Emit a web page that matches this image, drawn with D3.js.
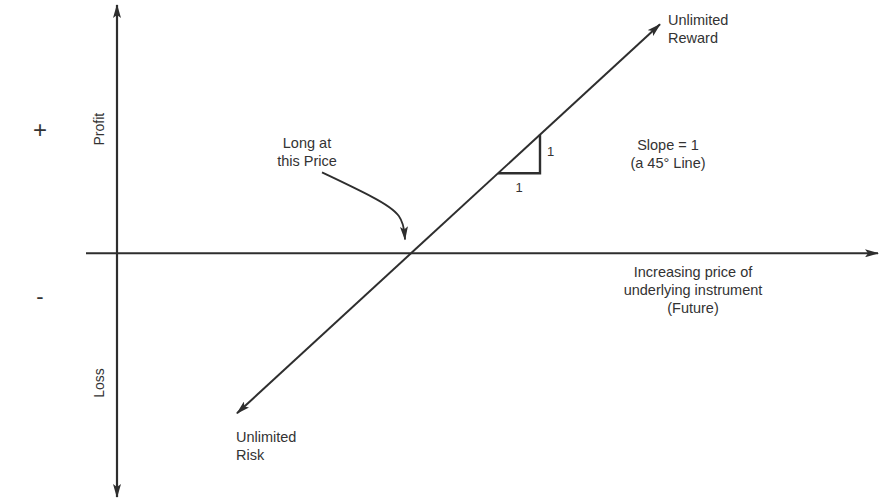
<!DOCTYPE html>
<html>
<head>
<meta charset="utf-8">
<script src="https://cdn.jsdelivr.net/npm/d3@7"></script>
<style>
  body { margin: 0; background: #fff; }
  text { font-family: "Liberation Sans", Arial, sans-serif; fill: #333; }
</style>
</head>
<body>
<script>
// payoff of a long future: profit = price - entry (entry at 0)
const priceExtent = [-3.25, 4.67];
const profitExtent = [-2.65, 2.70];
const payoffPrices = [-1.74, 2.49];
const slopeRun = [0.87, 1.29];

// labels: [price, profit, lines]
const labels = [
  { x: 2.57, y: 2.48, anchor: "start", lines: ["Unlimited", "Reward"] },
  { x: -1.75, y: -2.05, anchor: "start", lines: ["Unlimited", "Risk"] },
  { x: -1.04, y: 1.14, anchor: "middle", lines: ["Long at", "this Price"] },
  { x: 2.57, y: 1.12, anchor: "middle", lines: ["Slope = 1", "(a 45\u00b0 Line)"] },
  { x: 2.82, y: -0.26, anchor: "middle", lines: ["Increasing price of", "underlying instrument", "(Future)"] }
];
const curvePts = [[-0.89, 0.88], [-0.35, 0.6], [-0.08, 0.42], [-0.06, 0.15]];

const width = 880, height = 503;

const svg = d3.select("body").append("svg")
    .attr("width", width)
    .attr("height", height);

const x = d3.scaleLinear().domain(priceExtent).range([86, 878]);
const y = d3.scaleLinear().domain(profitExtent).range([497, 5]);
const axisX = -2.94;

const ink = "#2e2e2e";

// arrowhead marker
svg.append("defs").append("marker")
    .attr("id", "head")
    .attr("viewBox", "0 0 14 8")
    .attr("refX", 13)
    .attr("refY", 4)
    .attr("markerWidth", 14)
    .attr("markerHeight", 8)
    .attr("markerUnits", "userSpaceOnUse")
    .attr("orient", "auto")
  .append("path")
    .attr("d", "M0,0 L14,4 L0,8 L3,4 Z")
    .attr("fill", ink);

// axes
svg.append("line")
    .attr("x1", x(axisX)).attr("x2", x(axisX))
    .attr("y1", y(0)).attr("y2", y(profitExtent[1]))
    .attr("stroke", ink).attr("stroke-width", 2.2)
    .attr("marker-end", "url(#head)");
svg.append("line")
    .attr("x1", x(axisX)).attr("x2", x(axisX))
    .attr("y1", y(0)).attr("y2", y(profitExtent[0]))
    .attr("stroke", ink).attr("stroke-width", 2.2)
    .attr("marker-end", "url(#head)");
svg.append("line")
    .attr("x1", x(priceExtent[0])).attr("x2", x(priceExtent[1]))
    .attr("y1", y(0)).attr("y2", y(0))
    .attr("stroke", ink).attr("stroke-width", 2)
    .attr("marker-end", "url(#head)");

// payoff line, arrows both ends
svg.append("line")
    .attr("x1", x(0)).attr("y1", y(0))
    .attr("x2", x(payoffPrices[1])).attr("y2", y(payoffPrices[1]))
    .attr("stroke", ink).attr("stroke-width", 2)
    .attr("marker-end", "url(#head)");
svg.append("line")
    .attr("x1", x(0)).attr("y1", y(0))
    .attr("x2", x(payoffPrices[0])).attr("y2", y(payoffPrices[0]))
    .attr("stroke", ink).attr("stroke-width", 2)
    .attr("marker-end", "url(#head)");

// slope triangle
svg.append("path")
    .attr("d", d3.line()([
        [x(slopeRun[0]), y(slopeRun[0])],
        [x(slopeRun[1]), y(slopeRun[0])],
        [x(slopeRun[1]), y(slopeRun[1])]
    ]))
    .attr("fill", "none")
    .attr("stroke", ink).attr("stroke-width", 2.4);
svg.append("text")
    .attr("x", x(slopeRun[1]) + 7).attr("y", y((slopeRun[0] + slopeRun[1]) / 2) + 2)
    .attr("font-size", 13).text("1");
svg.append("text")
    .attr("x", x((slopeRun[0] + slopeRun[1]) / 2)).attr("y", y(slopeRun[0]) + 19)
    .attr("text-anchor", "middle")
    .attr("font-size", 13).text("1");

// curved pointer
svg.append("path")
    .attr("d", d3.line().curve(d3.curveBasis)(curvePts.map(p => [x(p[0]), y(p[1])])))
    .attr("fill", "none")
    .attr("stroke", ink).attr("stroke-width", 1.8)
    .attr("marker-end", "url(#head)");

// text blocks
labels.forEach(l => {
  const t = svg.append("text")
      .attr("x", x(l.x)).attr("y", y(l.y))
      .attr("text-anchor", l.anchor)
      .attr("font-size", 14.5);
  l.lines.forEach((s, i) => {
    t.append("tspan").attr("x", x(l.x)).attr("dy", i ? 18 : 0).text(s);
  });
});

// axis titles
svg.append("text")
    .attr("transform", `translate(${x(axisX) - 13},${y(1.35)}) rotate(-90)`)
    .attr("text-anchor", "middle")
    .attr("font-size", 14).text("Profit");
svg.append("text")
    .attr("transform", `translate(${x(axisX) - 13},${y(-1.41)}) rotate(-90)`)
    .attr("text-anchor", "middle")
    .attr("font-size", 14).text("Loss");
svg.append("text")
    .attr("x", 40).attr("y", y(1.34) + 8)
    .attr("text-anchor", "middle")
    .attr("font-size", 24).text("+");
svg.append("text")
    .attr("x", 40).attr("y", y(-0.49) + 6)
    .attr("text-anchor", "middle")
    .attr("font-size", 22).text("-");
</script>
</body>
</html>
